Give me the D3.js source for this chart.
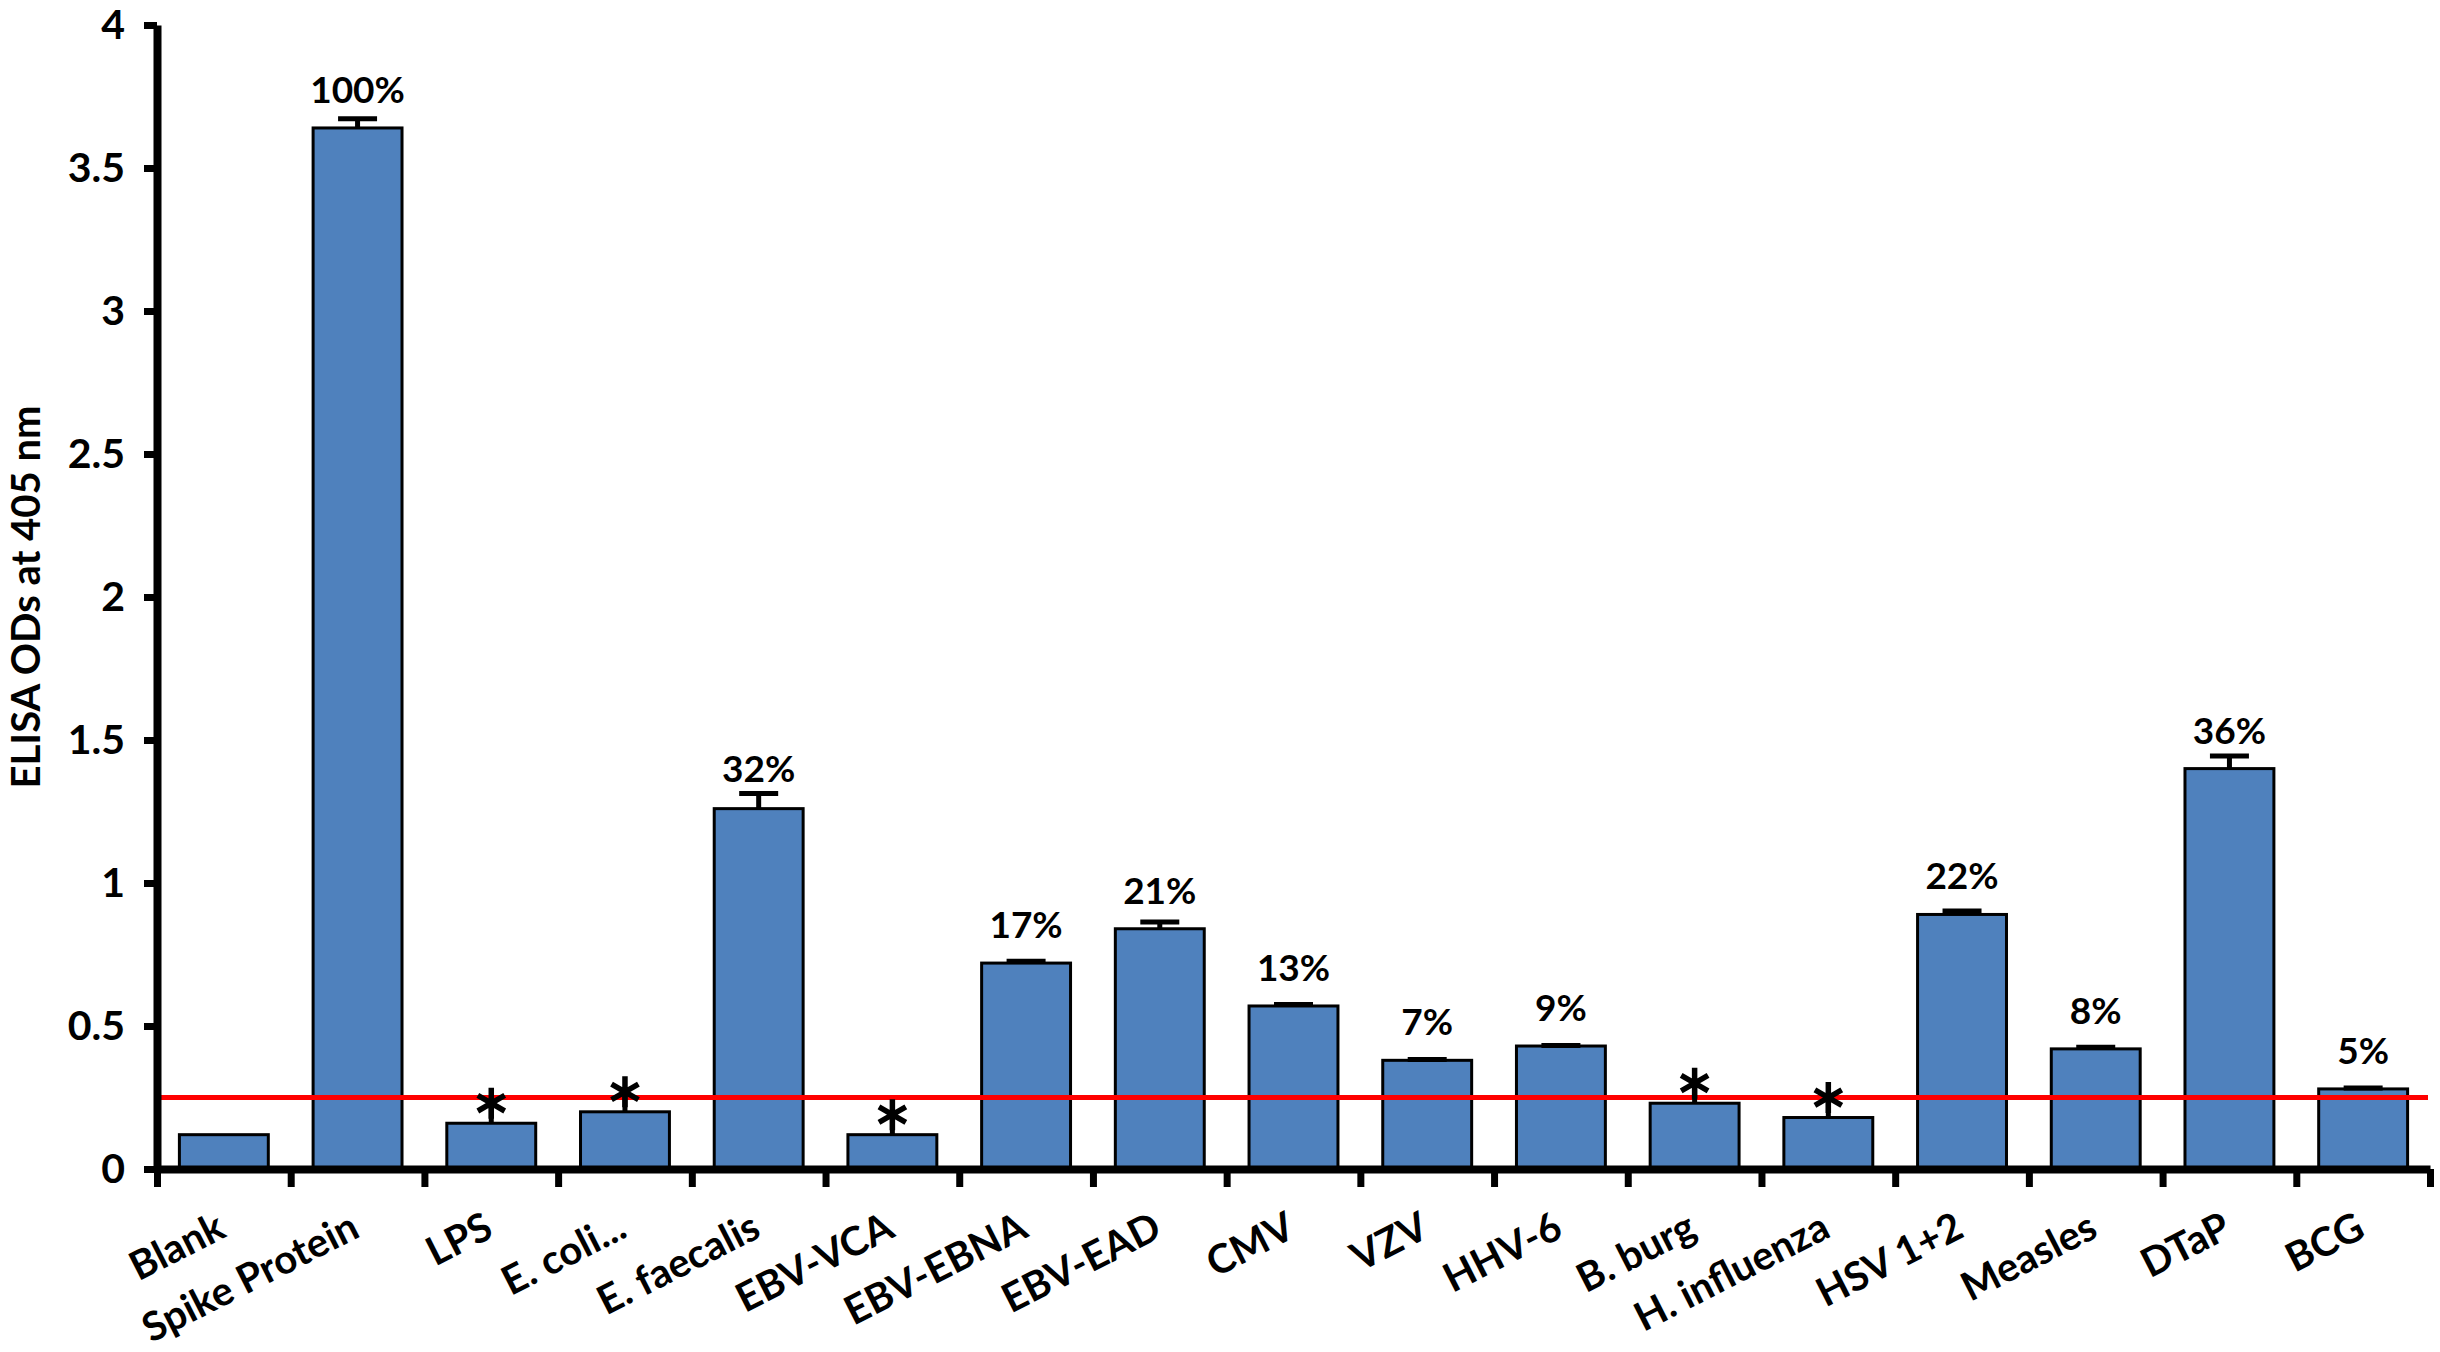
<!DOCTYPE html>
<html>
<head>
<meta charset="utf-8">
<script src="https://cdn.jsdelivr.net/npm/d3@7"></script>
<style>
  body { margin: 0; background: #ffffff; }
  svg { display: block; }
  text { font-family: Lato, "Open Sans", sans-serif; font-weight: 700; fill: #000; }
</style>
</head>
<body>
<div id="bar_chart"></div>
<script>

//  Chart data

var categories = ["Blank", "Spike Protein", "LPS", "E. coli...", "E. faecalis", "EBV-VCA",
    "EBV-EBNA", "EBV-EAD", "CMV", "VZV", "HHV-6", "B. burg", "H. influenza",
    "HSV 1+2", "Measles", "DTaP", "BCG"];

// mean ELISA OD at 405 nm
var odValues = [0.12, 3.64, 0.16, 0.20, 1.26, 0.12, 0.72, 0.84, 0.57, 0.38, 0.43,
    0.23, 0.18, 0.89, 0.42, 1.40, 0.28];

// top of the error bar (mean + SD), null where no bar is shown
var errorTop = [null, 3.672, null, null, 1.313, null, 0.726, 0.864, 0.575, 0.383, 0.432,
    null, null, 0.902, 0.426, 1.444, 0.283];

// percentage of spike protein reactivity
var percentLabels = ["", "100%", "", "", "32%", "", "17%", "21%", "13%", "7%", "9%",
    "", "", "22%", "8%", "36%", "5%"];

// below cut-off, marked with an asterisk
var belowCutoff = [false, false, true, true, false, true, false, false, false, false, false,
    true, true, false, false, false, false];

var cutoffValue = 0.25;

var yTickValues = [0, 0.5, 1, 1.5, 2, 2.5, 3, 3.5, 4];


//  Draw

function drawChart(){

    var w = 2440;
    var h = 1352;

    var svg = d3.select("#bar_chart")
        .append("svg")
        .attr("width", w)
        .attr("height", h);

    svg.append("rect")
        .attr("width", w)
        .attr("height", h)
        .attr("fill", "#ffffff");

    var left = 157, right = 2430, top = 25, bottom = 1169;

    // set the ranges
    var x = d3.scaleBand()
        .domain(categories)
        .range([left, right])
        .paddingInner(0.335)
        .paddingOuter(0.1675);

    // category boundaries, used for the x ticks
    var xEdge = d3.scaleLinear()
        .domain([0, categories.length])
        .range([left, right]);

    var y = d3.scaleLinear()
        .domain([0, 4])
        .range([bottom, top]);

    // bars
    svg.selectAll("rect.bar")
        .data(categories)
        .enter()
        .append("rect")
        .attr("class", "bar")
        .attr("x", function(d) { return x(d); })
        .attr("y", function(d, i) { return y(odValues[i]); })
        .attr("width", x.bandwidth())
        .attr("height", function(d, i) { return y(0) - y(odValues[i]); })
        .attr("fill", "#4f81bd")
        .attr("stroke", "#000")
        .attr("stroke-width", 3);

    // red cut-off line, over the bars
    svg.append("line")
        .attr("x1", left + 4)
        .attr("x2", right - 2)
        .attr("y1", y(cutoffValue))
        .attr("y2", y(cutoffValue))
        .attr("stroke", "#ff0000")
        .attr("stroke-width", 5);

    // error bars
    var capHalf = 19.5;
    categories.forEach(function(c, i){
        if(errorTop[i] === null){ return; }
        var cx = x(c) + x.bandwidth() / 2;
        svg.append("line")
            .attr("x1", cx).attr("x2", cx)
            .attr("y1", y(odValues[i])).attr("y2", y(errorTop[i]))
            .attr("stroke", "#000").attr("stroke-width", 5);
        svg.append("line")
            .attr("x1", cx - capHalf).attr("x2", cx + capHalf)
            .attr("y1", y(errorTop[i])).attr("y2", y(errorTop[i]))
            .attr("stroke", "#000").attr("stroke-width", 5);
    });

    // percent labels
    svg.selectAll("text.pct")
        .data(categories)
        .enter()
        .append("text")
        .attr("class", "pct")
        .attr("x", function(d) { return x(d) + x.bandwidth() / 2; })
        .attr("y", function(d, i) {
            var yy = y(odValues[i]) - 25;
            if(errorTop[i] !== null){ yy = Math.min(yy, y(errorTop[i]) - 11); }
            return yy;
        })
        .attr("text-anchor", "middle")
        .style("font-size", "37px")
        .text(function(d, i) { return percentLabels[i]; });

    // asterisks for samples under the cut-off
    var star = d3.symbol().type(d3.symbolAsterisk).size(680);
    categories.forEach(function(c, i){
        if(!belowCutoff[i]){ return; }
        var cx = x(c) + x.bandwidth() / 2;
        var cy = y(odValues[i]) - 20;
        svg.append("line")
            .attr("x1", cx).attr("x2", cx)
            .attr("y1", cy).attr("y2", y(odValues[i]))
            .attr("stroke", "#000").attr("stroke-width", 5);
        svg.append("path")
            .attr("d", star())
            .attr("transform", "translate(" + cx + "," + cy + ")")
            .attr("fill", "none")
            .attr("stroke", "#000")
            .attr("stroke-width", 5.5);
    });

    // Add the X Axis
    var xAxis = d3.axisBottom(xEdge)
        .tickValues(d3.range(categories.length + 1))
        .tickFormat("")
        .tickSize(18)
        .tickSizeOuter(0);

    var gx = svg.append("g")
        .attr("transform", "translate(0," + bottom + ")")
        .call(xAxis);
    gx.select(".domain").attr("stroke-width", 8);
    gx.selectAll(".tick line").attr("stroke-width", 7);

    // category labels
    svg.selectAll("text.cat")
        .data(categories)
        .enter()
        .append("text")
        .attr("class", "cat")
        .attr("text-anchor", "end")
        .attr("transform", function(d) {
            return "translate(" + (x(d) + x.bandwidth() / 2 + 4) + ",1236) rotate(-27)";
        })
        .style("font-size", "40px")
        .text(function(d) { return d; });

    // Add the Y Axis
    var yAxis = d3.axisLeft(y)
        .tickValues(yTickValues)
        .tickFormat(function(d) { return String(d); })
        .tickSize(13)
        .tickSizeOuter(0)
        .tickPadding(19);

    var gy = svg.append("g")
        .attr("transform", "translate(" + left + ",0)")
        .call(yAxis);
    gy.select(".domain").attr("stroke-width", 8);
    gy.selectAll(".tick line").attr("stroke-width", 7);
    gy.selectAll(".tick text")
        .style("font-size", "41px")
        .style("font-family", "Lato, sans-serif")
        .style("font-weight", 700);

    // y axis title
    svg.append("text")
        .attr("transform", "translate(40,597) rotate(-90)")
        .attr("text-anchor", "middle")
        .style("font-size", "40px")
        .text("ELISA ODs at 405 nm");
}

drawChart();

</script>
</body>
</html>
